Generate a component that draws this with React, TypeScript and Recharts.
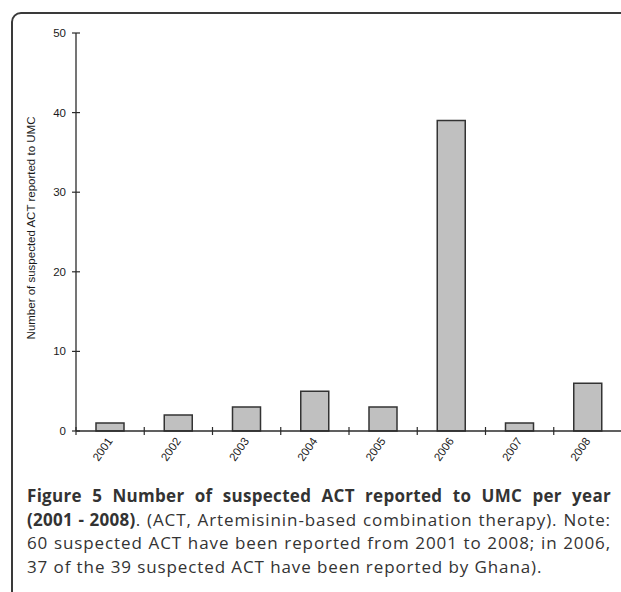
import React from 'react';
import { BarChart, Bar, XAxis, YAxis, Label } from 'recharts';

const years = ['2001', '2002', '2003', '2004', '2005', '2006', '2007', '2008'];
const counts = [1, 2, 3, 5, 3, 39, 1, 6];
const yTicks = [0, 10, 20, 30, 40, 50];
const yLabel = 'Number of suspected ACT reported to UMC';

const chartW = 620;
const chartH = 470;
const margin = { top: 25, right: 6, bottom: 0, left: 0 };
const yAxisW = 68;
const band = (chartW - margin.left - margin.right - yAxisW) / years.length;

const ink = '#2b2b2b';
const font = 'Liberation Sans, Arial, sans-serif';

function YTick(props: any) {
  const { x, y, payload } = props;
  return (
    <g>
      <line x1={x - 4} x2={x + 4} y1={y} y2={y} stroke={ink} strokeWidth={1.2} />
      <text x={x - 10} y={y} dy={4} textAnchor="end" fontSize={11.5} fill="#1a1a1a" fontFamily={font}>
        {payload.value}
      </text>
    </g>
  );
}

function XTick(props: any) {
  const { x, y, payload } = props;
  const bx = x - band / 2;
  const tx = x + 3;
  const ty = y + 10;
  return (
    <g>
      <line x1={bx} x2={bx} y1={y - 4} y2={y + 4} stroke={ink} strokeWidth={1.2} />
      <text
        x={tx}
        y={ty}
        textAnchor="end"
        fontSize={11.5}
        fill="#1a1a1a"
        fontFamily={font}
        transform={`rotate(-55 ${tx} ${ty})`}
      >
        {payload.value}
      </text>
    </g>
  );
}

const lineStyle: React.CSSProperties = {
  whiteSpace: 'nowrap',
  textAlign: 'justify',
  textAlignLast: 'justify',
};

export default function App() {
  const data = years.map((year, i) => ({ year, count: counts[i] }));

  return (
    <div style={{ position: 'fixed', left: 0, top: 0, width: 621, height: 592, overflow: 'hidden', background: '#fff' }}>
      <div
        style={{
          position: 'absolute',
          left: 11,
          top: 12,
          width: 700,
          height: 700,
          border: '2px solid #3a3a3a',
          borderTopLeftRadius: 10,
        }}
      />
      <div style={{ position: 'absolute', left: 8, top: 8 }}>
        <BarChart width={chartW} height={chartH} data={data} margin={margin}>
          <XAxis
            dataKey="year"
            height={chartH - margin.top - 398}
            tickSize={0}
            tickMargin={0}
            tickLine={false}
            axisLine={{ stroke: ink, strokeWidth: 1.3 }}
            tick={<XTick />}
            interval={0}
          />
          <YAxis
            width={yAxisW}
            domain={[0, 50]}
            ticks={yTicks}
            tickSize={0}
            tickMargin={0}
            tickLine={false}
            axisLine={{ stroke: ink, strokeWidth: 1.3 }}
            tick={<YTick />}
            label={
              <Label
                content={(p: any) => {
                  const vb = p.viewBox;
                  const cx = vb.x + 27;
                  const cy = vb.y + vb.height / 2 - 4;
                  return (
                    <text
                      x={cx}
                      y={cy}
                      textAnchor="middle"
                      fontSize={11.5}
                      fill="#1a1a1a"
                      fontFamily={font}
                      transform={`rotate(-90 ${cx} ${cy})`}
                    >
                      {yLabel}
                    </text>
                  );
                }}
              />
            }
          />
          <Bar dataKey="count" fill="#c0c0c0" stroke="#333" strokeWidth={1.5} barSize={28} isAnimationActive={false} />
        </BarChart>
      </div>
      <div
        style={{
          position: 'absolute',
          left: 27,
          top: 484,
          width: 584,
          fontFamily: '"Open Sans", sans-serif',
          fontSize: 17,
          lineHeight: '23.5px',
          letterSpacing: 0.9,
          color: '#333',
        }}
      >
        <div style={{ ...lineStyle, fontWeight: 700, letterSpacing: 0.3 }}>
          Figure 5 Number of suspected ACT reported to UMC per year
        </div>
        <div style={lineStyle}>
          <b style={{ letterSpacing: 0.3 }}>(2001 - 2008)</b>. (ACT, Artemisinin-based combination therapy). Note:
        </div>
        <div style={lineStyle}>60 suspected ACT have been reported from 2001 to 2008; in 2006,</div>
        <div style={{ whiteSpace: 'nowrap' }}>37 of the 39 suspected ACT have been reported by Ghana).</div>
      </div>
    </div>
  );
}
